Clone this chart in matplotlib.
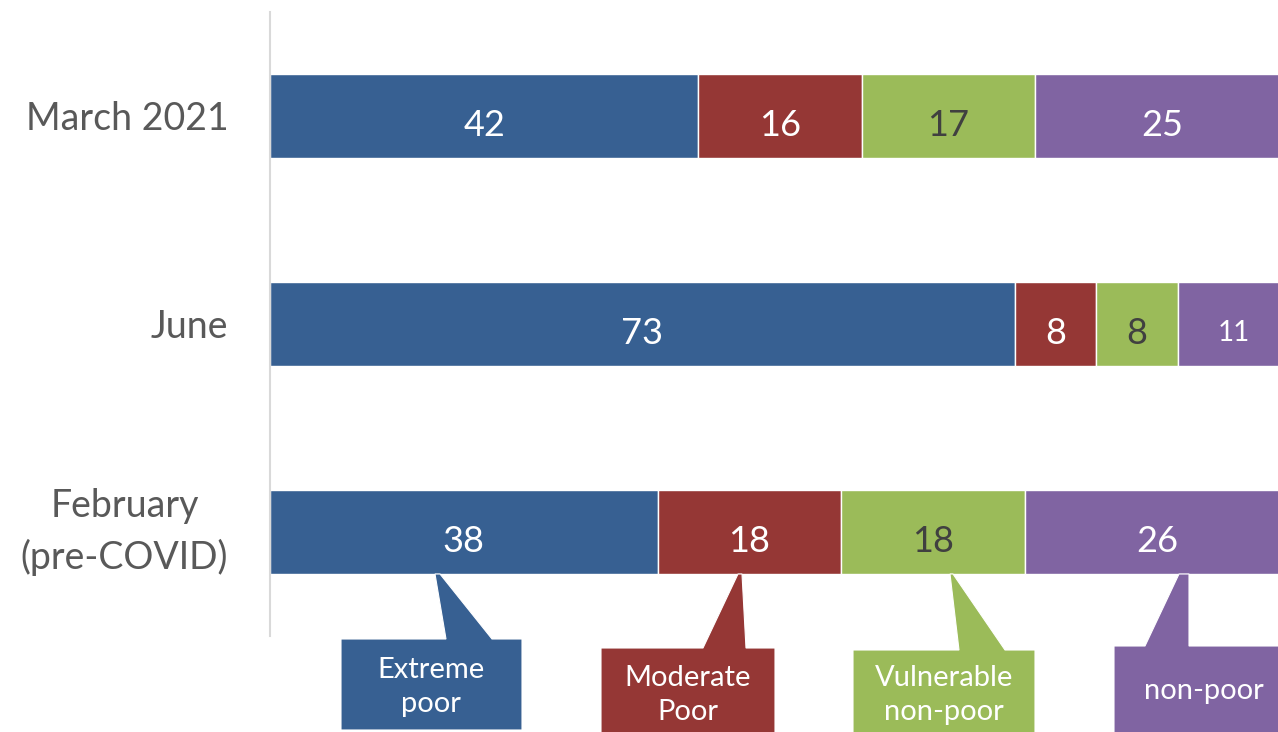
import numpy as np
import matplotlib.pyplot as plt
from matplotlib.patches import Polygon

plt.rcParams['font.family'] = ['Lato', 'DejaVu Sans']

# periodos, de abajo hacia arriba
periods = ["February\n(pre-COVID)", "June", "March 2021"]
extreme = [38, 73, 42]
moderate = [18, 8, 16]
vulnerable = [18, 8, 17]
nonpoor = [26, 11, 25]

groups = ["Extreme\npoor", "Moderate\nPoor", "Vulnerable\nnon-poor", "non-poor"]
colors = ["#376092", "#953735", "#9bbb59", "#8064a2"]
text_colors = ["white", "white", "#404040", "white"]

fig = plt.figure(figsize=(12.78, 7.32), dpi=100)
ax = fig.add_axes([270 / 1278, 96 / 732, 1020 / 1278, 624 / 732])

y = np.arange(len(periods))
series = [extreme, moderate, vulnerable, nonpoor]
left = np.zeros(len(periods))
for vals, col, tcol in zip(series, colors, text_colors):
    vals = np.array(vals, dtype=float)
    ax.barh(y, vals, left=left, height=0.4, color=col, edgecolor="white", linewidth=1)
    for yi, (l, v) in enumerate(zip(left, vals)):
        # el segmento de 11 es angosto, va con letra mas chica
        size = 20 if v == 11 else 26
        ax.text(l + v / 2, yi - 0.045, f"{v:.0f}", ha="center", va="center",
                color=tcol, fontsize=size)
    left += vals

ax.set_xlim(0, 100)
ax.set_ylim(-0.5, 2.5)
ax.set_yticks([])
ax.set_xticks([])

# etiquetas de los periodos a la izquierda del eje
for yi, name in zip(y, periods):
    dy = 0 if "\n" in name else -2
    ax.annotate(name, xy=(0, yi), xycoords=("axes fraction", "data"),
                xytext=(-30, dy), textcoords="offset points",
                ha="right", va="center", multialignment="center",
                fontsize=27, color="#595959", linespacing=1.5)

for s in ["top", "right", "bottom"]:
    ax.spines[s].set_visible(False)
ax.spines["left"].set_color("#d9d9d9")
ax.spines["left"].set_linewidth(1.5)

# cuadros de leyenda con su flecha hacia la barra de febrero
lay = fig.add_axes([0, 0, 1, 1], facecolor="none")
lay.set_xlim(0, 1278)
lay.set_ylim(732, 0)
lay.axis("off")

boxes = [(341, 522, 639, 730), (601, 775, 648, 745), (853, 1035, 650, 745), (1114, 1295, 646, 745)]
notch = [(446, 492), (703, 746), (959, 1005), (1145, 1189)]
tips = [(435, 440), (738, 742), (950, 953), (1179, 1189)]
text_pos = [(431, 687), (688, 695), (944, 695), (1204, 691)]
tip_y = 574

for (x0, x1, top, bot), (b0, b1), (t0, t1), col, name, (tx, ty) in zip(
        boxes, notch, tips, colors, groups, text_pos):
    pts = [(x0, top), (b0, top), (t0, tip_y), (t1, tip_y), (b1, top),
           (x1, top), (x1, bot), (x0, bot)]
    lay.add_patch(Polygon(pts, closed=True, facecolor=col, edgecolor="white", linewidth=0.8))
    lay.text(tx, ty, name, ha="center", va="center", color="white",
             fontsize=21, linespacing=1.4)

fig.savefig("out.png", dpi=100)
